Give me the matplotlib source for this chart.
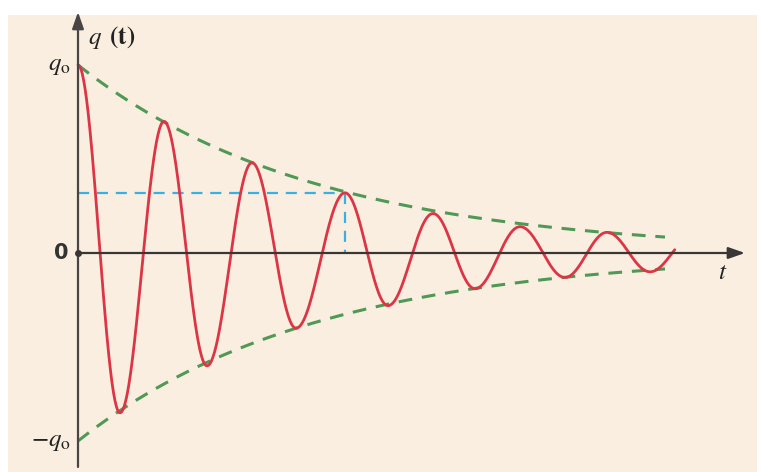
import numpy as np
import matplotlib.pyplot as plt

# ---- DATA: turning points of q(t) (t in arbitrary units, q in units of q0) ----
t_ext = [0.0, 0.42, 0.86, 1.29, 1.74, 2.18, 2.67, 3.10, 3.55, 3.97, 4.42, 4.87, 5.29, 5.72, 6.15]
q_ext = [1.0, -0.85, 0.70, -0.60, 0.48, -0.40, 0.32, -0.28, 0.21, -0.19, 0.14, -0.13, 0.11, -0.10, 0.09]
t_end = 5.97          # where the drawn curve stops

# envelope  +/- q0 * exp(-t / tau)
q0 = 1.0
tau = 2.38
t_env_end = 5.87

# marked peak (dashed blue guide)
t_mark = 2.67
q_mark = 0.32

# ---- COLOURS ----
bg = '#faeee0'
red = '#dc3545'
green = '#4f9955'
blue = '#3ab0e2'
axis_col = '#3a3636'

# ---- BUILD CURVE: half-cosine arcs between turning points ----
ts, qs = [], []
for i in range(len(t_ext) - 1):
    s = np.linspace(0, 1, 60)
    seg_t = t_ext[i] + (t_ext[i + 1] - t_ext[i]) * s
    seg_q = q_ext[i] + (q_ext[i + 1] - q_ext[i]) * (1 - np.cos(np.pi * s)) / 2
    ts.append(seg_t)
    qs.append(seg_q)
ts = np.concatenate(ts)
qs = np.concatenate(qs)
keep = ts <= t_end
ts, qs = ts[keep], qs[keep]

t_env = np.linspace(0, t_env_end, 300)
env = q0 * np.exp(-t_env / tau)

# ---- FIGURE ----
plt.rcParams['mathtext.fontset'] = 'stix'
fig = plt.figure(figsize=(7.65, 4.72), dpi=100)
fig.patch.set_facecolor('white')

# cream panel behind the diagram
bg_ax = fig.add_axes([8 / 765, 0, 749 / 765, 457 / 472])
bg_ax.set_facecolor(bg)
bg_ax.set_xticks([])
bg_ax.set_yticks([])
for sp in bg_ax.spines.values():
    sp.set_visible(False)

ax = fig.add_axes([0, 0, 1, 1])
ax.set_xlim(-0.78, 6.87)
ax.set_ylim(-219 / 188, 253 / 188)
ax.axis('off')

# envelope
ax.plot(t_env, env, color=green, lw=2.2, ls=(0, (4.5, 3.2)), zorder=2)
ax.plot(t_env, -env, color=green, lw=2.2, ls=(0, (4.5, 3.2)), zorder=2)

# guide to the marked peak
ax.plot([0, t_mark], [q_mark, q_mark], color=blue, lw=1.6, ls=(0, (5, 3.5)), zorder=2)
ax.plot([t_mark, t_mark], [q_mark, 0], color=blue, lw=1.6, ls=(0, (5, 3.5)), zorder=2)

# damped oscillation
ax.plot(ts, qs, color=red, lw=2.0, zorder=3, solid_capstyle='round')

# axes with arrow heads
ax.annotate('', xy=(6.67, 0), xytext=(0, 0),
            arrowprops=dict(arrowstyle='-|>,head_length=1.0,head_width=0.35',
                            color=axis_col, lw=1.6, shrinkA=0, shrinkB=0), zorder=4)
ax.annotate('', xy=(0, 1.282), xytext=(0, -1.138),
            arrowprops=dict(arrowstyle='-|>,head_length=1.0,head_width=0.35',
                            color='#4a4545', lw=1.6, shrinkA=0, shrinkB=0), zorder=4)
ax.plot([0], [0], 'o', color=axis_col, ms=4, zorder=5)

# labels
ax.text(0.1, 1.145, r'$q\ \,\mathbf{(t)}$', fontsize=18, color='#222222', ha='left', va='center')
ax.text(-0.07, 1.0, r'$q_{\mathrm{o}}$', fontsize=18, color='#222222', ha='right', va='center')
ax.text(-0.07, -1.0, r'$-q_{\mathrm{o}}$', fontsize=18, color='#222222', ha='right', va='center')
ax.text(-0.1, 0.0, '0', fontsize=15, fontweight='bold', color='#333333', ha='right', va='center')
ax.text(6.45, -0.1, r'$t$', fontsize=18, color='#222222', ha='center', va='center')

plt.savefig('out.png', dpi=100)
